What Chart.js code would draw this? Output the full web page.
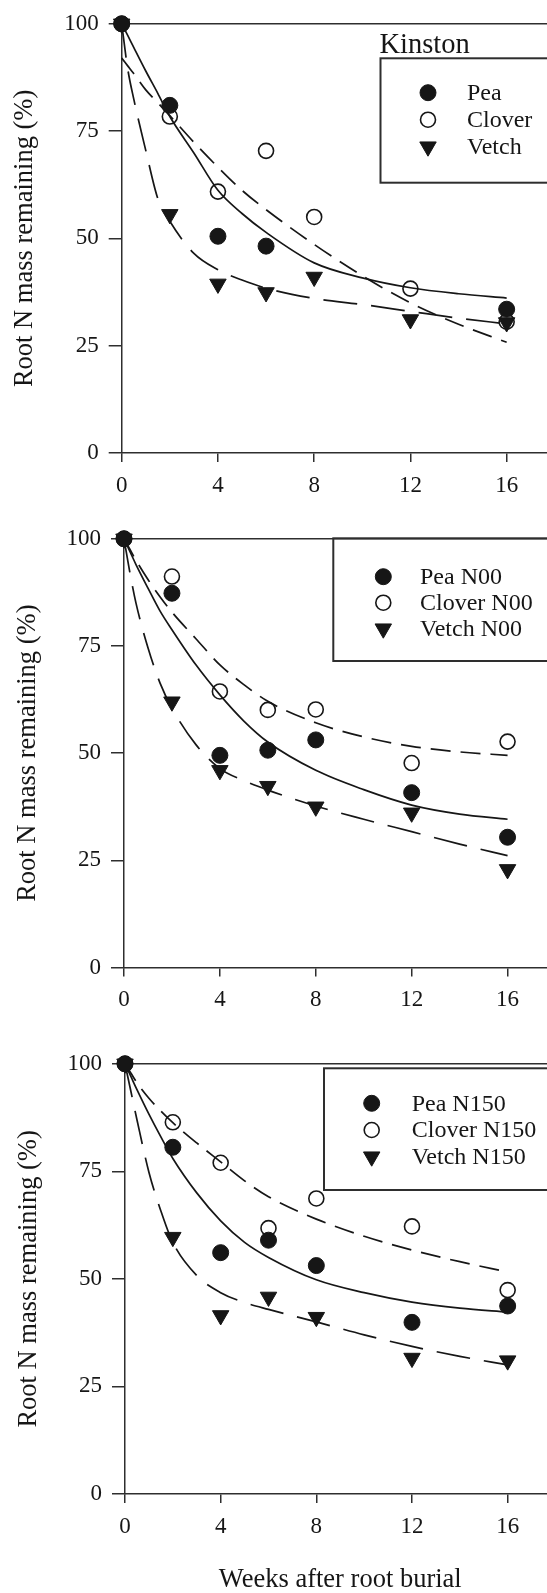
<!DOCTYPE html>
<html>
<head>
<meta charset="utf-8">
<script src="https://cdn.jsdelivr.net/npm/chart.js@4.4.1/dist/chart.umd.min.js"></script>
<style>
  html, body { margin: 0; padding: 0; background: #fff; }
  body { width: 547px; height: 1593px; overflow: hidden; position: relative; }
  canvas { position: absolute; left: 0; }
</style>
</head>
<body>
<canvas id="kinston" width="566" height="515" style="top:0px"></canvas>
<canvas id="n00" width="566" height="525" style="top:515px"></canvas>
<canvas id="n150" width="566" height="553" style="top:1040px"></canvas>
<script>
// sampling weeks
const weeks = [0, 2, 4, 6, 8, 12, 16];
const fitWeeks = [0, 0.25, 0.5, 1, 1.5, 2, 3, 4, 5, 6, 8, 10, 12, 14, 16];
const xTicks = [0, 4, 8, 12, 16];
const yTicks = [0, 25, 50, 75, 100];

// Kinston
const peaK = [100, 81.0, 50.5, 48.2, null, null, 33.5];
const cloverK = [100, 78.4, 60.9, 70.4, 55.0, 38.3, 30.6];
const vetchK = [100, 55.6, 39.4, 37.4, 41.0, 31.1, 30.4];
const peaKFit = [100, 97.3, 94.5, 89, 83.8, 78.4, 69.9, 61.2, 55.8, 51.4, 44.3, 40.8, 38.5, 37.1, 36.1];
const cloverKFit = [92, 90.2, 88.4, 84.6, 81.6, 78.6, 72.4, 66.6, 61.2, 56.7, 48.6, 41.3, 35.0, 30.0, 25.8];
const vetchKFit = [100, 89.5, 82.5, 70.5, 59.3, 54, 46.5, 42.7, 40.3, 38.4, 36.0, 34.6, 33.0, 31.4, 30.1];

// N00
const peaN00 = [100, 87.3, 49.5, 50.7, 53.1, 40.8, 30.4];
const cloverN00 = [100, 91.2, 64.4, 60.1, 60.2, 47.7, 52.7];
const vetchN00 = [100, 62.0, 46.0, 42.3, 37.5, 36.1, 22.9];
const peaN00Fit = [100, 97, 94, 88.5, 83.2, 78.8, 70.6, 63.6, 57.5, 52.6, 46.0, 41.5, 37.9, 35.8, 34.6];
const cloverN00Fit = [100, 97.5, 95, 90.5, 86.5, 82.9, 76.7, 70.6, 66, 62.1, 57.1, 53.8, 51.6, 50.3, 49.5];
const vetchN00Fit = [100, 92, 85, 74.6, 66.4, 60.5, 52, 46.4, 43.6, 41.4, 37.7, 34.6, 31.7, 28.8, 26.1];

// N150
const peaN150 = [100, 80.6, 56.1, 59.0, 53.1, 39.9, 43.7];
const cloverN150 = [100, 86.4, 77.0, 61.8, 68.7, 62.2, 47.4];
const vetchN150 = [100, 59.7, 41.5, 45.8, 41.1, 31.6, 31.0];
const peaN150Fit = [100, 97, 94, 88.3, 83, 78, 70, 63.5, 58.5, 55.0, 49.8, 46.8, 44.6, 43.2, 42.3];
const cloverN150Fit = [100, 97.8, 95.6, 92, 89, 86.3, 81.6, 77.2, 72.8, 69.1, 63.9, 59.9, 56.7, 54, 51.6];
const vetchN150Fit = [100, 93.5, 87, 74.8, 65.8, 58.5, 50.8, 46.8, 44.5, 42.9, 40.0, 37.0, 34.3, 32.0, 30.0];

const SERIF = '"Liberation Serif", "Times New Roman", serif';
const INK = '#161616';
const AXIS = '#2e2e2e';

// legend box drawn inside the plot, like the original figure
const boxLegend = {
  id: 'boxLegend',
  afterDatasetsDraw(chart, args, o) {
    const ctx = chart.ctx;
    ctx.save();
    ctx.lineWidth = 2;
    ctx.strokeStyle = AXIS;
    ctx.strokeRect(o.x, o.y, 600, o.h);
    ctx.fillStyle = INK;
    if (o.title) {
      ctx.font = '28.5px ' + SERIF;
      ctx.textBaseline = 'alphabetic';
      ctx.fillText(o.title, o.x - 1, o.titleY);
    }
    ctx.font = '24px ' + SERIF;
    ctx.textBaseline = 'middle';
    chart.data.datasets.filter(d => d.legend).forEach((d, i) => {
      const x = o.markerX, y = o.rowY + i * o.rowGap;
      const r = d.pointRadius;
      ctx.beginPath();
      if (d.pointStyle === 'triangle') {
        const h = r * Math.sin(Math.PI / 3);
        ctx.moveTo(x - h, y - r / 2);
        ctx.lineTo(x + h, y - r / 2);
        ctx.lineTo(x, y + r);
        ctx.closePath();
      } else {
        ctx.arc(x, y, r, 0, Math.PI * 2);
      }
      ctx.lineWidth = d.pointBorderWidth;
      ctx.strokeStyle = d.pointBorderColor;
      ctx.fillStyle = d.pointBackgroundColor;
      ctx.fill();
      ctx.stroke();
      ctx.fillStyle = INK;
      ctx.fillText(d.label, o.textX, y + 1);
    });
    ctx.restore();
  }
};

function makePanel(id, s, L) {
  const pts = ys => weeks.map((w, i) => ({x: w, y: ys[i]})).filter(p => p.y !== null);
  const fit = ys => fitWeeks.map((w, i) => ({x: w, y: ys[i]}));
  const line = (ys, dash) => ({
    data: fit(ys), showLine: true, pointRadius: 0, borderColor: INK, borderWidth: 1.7,
    borderDash: dash, cubicInterpolationMode: 'monotone', clip: false
  });
  const right = 566 - L.left - 18 * L.pxWeek;

  new Chart(document.getElementById(id), {
    type: 'scatter',
    data: {
      datasets: [
        {label: s.names[0], data: pts(s.pea), legend: true, pointStyle: 'circle', pointRadius: 8,
         pointBackgroundColor: INK, pointBorderColor: INK, pointBorderWidth: 1, clip: false},
        {label: s.names[1], data: pts(s.clover), legend: true, pointStyle: 'circle', pointRadius: 7.5,
         pointBackgroundColor: 'rgba(0,0,0,0)', pointBorderColor: INK, pointBorderWidth: 1.6, clip: false},
        {label: s.names[2], data: pts(s.vetch), legend: true, pointStyle: 'triangle', pointRotation: 180,
         pointRadius: 9.5, pointBackgroundColor: INK, pointBorderColor: INK, pointBorderWidth: 1, clip: false},
        line(s.peaFit, []),
        line(s.cloverFit, [20, 10]),
        line(s.vetchFit, [34, 14])
      ]
    },
    options: {
      responsive: false,
      animation: false,
      devicePixelRatio: 1,
      layout: {padding: {top: L.top, left: 0, right: right, bottom: 0}},
      plugins: {
        legend: {display: false},
        tooltip: {enabled: false},
        boxLegend: L.legend
      },
      scales: {
        x: {
          type: 'linear', position: 'bottom', min: 0, max: 18,
          afterBuildTicks: sc => { sc.ticks = xTicks.map(v => ({value: v})); },
          afterFit: sc => { sc.height = L.xHeight; },
          grid: {drawOnChartArea: false, tickLength: 9, color: AXIS, lineWidth: 1.5},
          border: {color: AXIS, width: 1.5},
          ticks: {padding: 10, color: INK, maxRotation: 0, autoSkip: false, font: {family: SERIF, size: 23}},
          title: {
            display: !!L.xTitle, text: L.xTitle || '', color: INK,
            font: {family: SERIF, size: 26.5, lineHeight: 1}, padding: {top: 0, bottom: 0}
          }
        },
        xTop: {
          type: 'linear', position: 'top', min: 0, max: 18,
          afterFit: sc => { sc.height = 0; },
          ticks: {display: false},
          grid: {display: false},
          border: {color: AXIS, width: 1.5}
        },
        y: {
          min: 0, max: 100,
          afterBuildTicks: sc => { sc.ticks = yTicks.map(v => ({value: v})); },
          afterFit: sc => { sc.width = L.left; },
          grid: {drawOnChartArea: false, tickLength: 13, color: AXIS, lineWidth: 1.5},
          border: {color: AXIS, width: 1.5},
          ticks: {padding: 10, color: INK, font: {family: SERIF, size: 23}},
          title: {
            display: true, text: 'Root N mass remaining (%)', color: INK,
            font: {family: SERIF, size: 26.5, lineHeight: 1.2}, padding: {top: L.yTitlePad, bottom: 0}
          }
        }
      }
    },
    plugins: [boxLegend]
  });
}

makePanel('kinston', {
  names: ['Pea', 'Clover', 'Vetch'],
  pea: peaK, clover: cloverK, vetch: vetchK,
  peaFit: peaKFit, cloverFit: cloverKFit, vetchFit: vetchKFit
}, {
  top: 20.7, xHeight: 62, left: 121.7, pxWeek: 24.06, yTitlePad: 9,
  legend: {x: 380.5, y: 58.3, h: 124.4, markerX: 428, textX: 467, rowY: 92.7, rowGap: 27, title: 'Kinston', titleY: 53.3}
});

makePanel('n00', {
  names: ['Pea N00', 'Clover N00', 'Vetch N00'],
  pea: peaN00, clover: cloverN00, vetch: vetchN00,
  peaFit: peaN00Fit, cloverFit: cloverN00Fit, vetchFit: vetchN00Fit
}, {
  top: 19.3, xHeight: 72.4, left: 124, pxWeek: 24.1, yTitlePad: 12,
  legend: {x: 333.3, y: 23.3, h: 122.7, markerX: 383.3, textX: 420, rowY: 61.7, rowGap: 26}
});

makePanel('n150', {
  names: ['Pea N150', 'Clover N150', 'Vetch N150'],
  pea: peaN150, clover: cloverN150, vetch: vetchN150,
  peaFit: peaN150Fit, cloverFit: cloverN150Fit, vetchFit: vetchN150Fit
}, {
  top: 22, xHeight: 99, left: 125, pxWeek: 24.17, yTitlePad: 13, xTitle: 'Weeks after root burial',
  legend: {x: 324, y: 28.3, h: 121.7, markerX: 371.7, textX: 411.7, rowY: 63.3, rowGap: 26.7}
});
</script>
</body>
</html>
